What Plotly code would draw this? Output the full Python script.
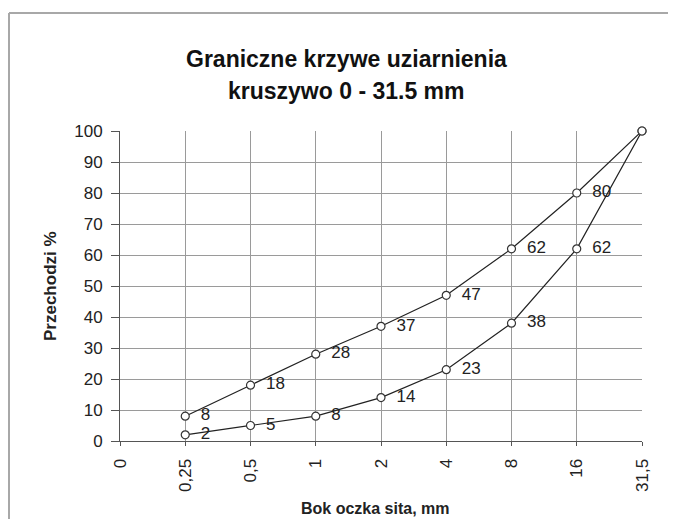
import plotly.graph_objects as go

categories = ["0", "0,25", "0,5", "1", "2", "4", "8", "16", "31,5"]
sieves = ["0,25", "0,5", "1", "2", "4", "8", "16", "31,5"]
upper = [8, 18, 28, 37, 47, 62, 80, 100]
lower = [2, 5, 8, 14, 23, 38, 62, 100]

def labels(vals):
    return ["  " + str(v) if v != 100 else "" for v in vals]

FONT = "Arial, Liberation Sans, sans-serif"
OFF = 8  # page body margin
SW, SH = 676, 519  # screen size
W, H = SW - OFF, SH - OFF  # figure size (fits without scrollbars)
# desired plot area on screen
SX0, SX1, SY0, SY1 = 120, 642, 131, 441
L = SX0 - OFF
T = SY0 - OFF
R = W - (SX1 - OFF)
B = H - (SY1 - OFF)
pw, ph = W - L - R, H - T - B

def px(x):
    return (x - OFF - L) / pw

def py(y):
    return (H - B - (y - OFF)) / ph

fig = go.Figure()
for vals in (upper, lower):
    fig.add_trace(go.Scatter(
        x=sieves, y=vals, mode="lines+markers+text",
        text=labels(vals), textposition="middle right",
        textfont=dict(family=FONT, size=17, color="#222"),
        line=dict(color="#222", width=1.2),
        marker=dict(symbol="circle", size=8, color="white",
                    line=dict(color="#333", width=1.2)),
        cliponaxis=False, showlegend=False,
    ))

fig.update_layout(
    width=W, height=H,
    margin=dict(l=L, r=R, t=T, b=B),
    paper_bgcolor="white", plot_bgcolor="white",
    font=dict(family=FONT, color="#222"),
    xaxis=dict(type="category", categoryorder="array", categoryarray=categories,
               range=[0, 8], tickangle=-90, tickfont=dict(size=17, color="#222"),
               showgrid=True, gridcolor="#9a9a9a", gridwidth=1,
               showline=True, linecolor="#555", linewidth=1,
               ticks="outside", ticklen=4, tickcolor="#555", zeroline=False,
               ticklabelstandoff=6),
    yaxis=dict(range=[0, 100], dtick=10, tickfont=dict(size=17, color="#222"),
               showgrid=True, gridcolor="#9a9a9a", gridwidth=1,
               showline=True, linecolor="#555", linewidth=1,
               ticks="outside", ticklen=8, tickcolor="#555", zeroline=False,
               ticklabelstandoff=5),
    annotations=[
        dict(text="<b>Graniczne krzywe uziarnienia</b>", xref="paper", yref="paper",
             x=px(346), y=py(59), showarrow=False, xanchor="center", yanchor="middle",
             font=dict(size=23, family=FONT, color="#111")),
        dict(text="<b>kruszywo 0 - 31.5 mm</b>", xref="paper", yref="paper",
             x=px(346), y=py(91), showarrow=False, xanchor="center", yanchor="middle",
             font=dict(size=23, family=FONT, color="#111")),
        dict(text="<b>Przechodzi %</b>", xref="paper", yref="paper",
             x=px(50), y=py(286), showarrow=False, textangle=-90,
             xanchor="center", yanchor="middle",
             font=dict(size=17, family=FONT, color="#222")),
        dict(text="<b>Bok oczka sita, mm</b>", xref="paper", yref="paper",
             x=px(375), y=py(508), showarrow=False,
             xanchor="center", yanchor="middle",
             font=dict(size=16, family=FONT, color="#222")),
    ],
    shapes=[
        dict(type="line", xref="paper", yref="paper",
             x0=px(9), x1=px(690), y0=py(13), y1=py(13),
             line=dict(color="#a8a8a8", width=2), layer="below"),
        dict(type="line", xref="paper", yref="paper",
             x0=px(9), x1=px(9), y0=py(13), y1=py(540),
             line=dict(color="#a8a8a8", width=2), layer="below"),
    ],
)

fig.write_html("out.html")
